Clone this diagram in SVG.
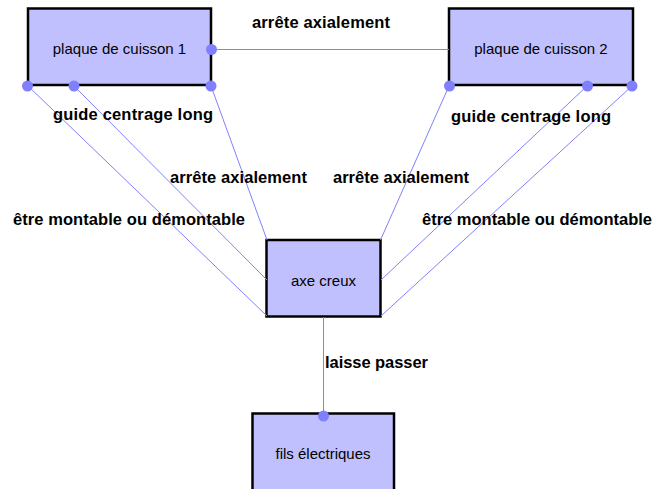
<svg xmlns="http://www.w3.org/2000/svg" width="658" height="489" viewBox="0 0 658 489">
<style>
.box{fill:#c0c0ff;stroke:#000;stroke-width:2.5}
.nt{font-family:"Liberation Sans",Arial,sans-serif;font-size:15px;fill:#000;text-anchor:middle}
.ln{stroke:#8080ff;stroke-width:1;fill:none}
.dot{fill:#8080ff}
.lb{font-family:"Liberation Sans",Arial,sans-serif;font-size:16.5px;font-weight:bold;fill:#000}
</style>
<rect width="658" height="489" fill="#fff"/>
<g id="plaque1">
<rect class="box" x="28" y="8.5" width="183" height="76.5"/>
<text class="nt" x="119.5" y="54">plaque de cuisson 1</text>
</g>
<g id="plaque2">
<rect class="box" x="449" y="8.5" width="184" height="76.5"/>
<text class="nt" x="541" y="54">plaque de cuisson 2</text>
</g>
<g id="axe">
<rect class="box" x="266.5" y="240" width="114" height="76.5"/>
<text class="nt" x="323.5" y="285.5">axe creux</text>
</g>
<g id="fils">
<rect class="box" x="252.5" y="413.5" width="141.5" height="90"/>
<text class="nt" x="323" y="459">fils électriques</text>
</g>
<g id="connectors">
<line class="ln" x1="211" y1="49.5" x2="449" y2="49.5"/>
<line class="ln" x1="28" y1="86" x2="267" y2="316"/>
<line class="ln" x1="74" y1="86" x2="267" y2="280"/>
<line class="ln" x1="211" y1="86" x2="267" y2="240"/>
<line class="ln" x1="449" y1="86" x2="380.5" y2="240"/>
<line class="ln" x1="587" y1="86" x2="381" y2="280"/>
<line class="ln" x1="632" y1="86" x2="381" y2="316"/>
<line class="ln" x1="323.5" y1="317" x2="323.5" y2="415"/>
<circle class="dot" cx="211.5" cy="49.5" r="5.5"/>
<circle class="dot" cx="27.5" cy="86" r="5.5"/>
<circle class="dot" cx="74" cy="86" r="5.5"/>
<circle class="dot" cx="211" cy="86" r="5.5"/>
<circle class="dot" cx="449.5" cy="86" r="5.5"/>
<circle class="dot" cx="587.5" cy="86" r="5.5"/>
<circle class="dot" cx="632" cy="86" r="5.5"/>
<circle class="dot" cx="323.5" cy="416" r="5.5"/>
<text class="lb" x="252" y="28" textLength="138">arrête axialement</text>
<text class="lb" x="53" y="120" textLength="160">guide centrage long</text>
<text class="lb" x="170" y="182.5" textLength="137">arrête axialement</text>
<text class="lb" x="13" y="225" textLength="232">être montable ou démontable</text>
<text class="lb" x="451" y="122" textLength="160">guide centrage long</text>
<text class="lb" x="333" y="182.5" textLength="136">arrête axialement</text>
<text class="lb" x="422" y="225" textLength="230">être montable ou démontable</text>
<text class="lb" x="325" y="367.5" textLength="103">laisse passer</text>
</g>
</svg>
